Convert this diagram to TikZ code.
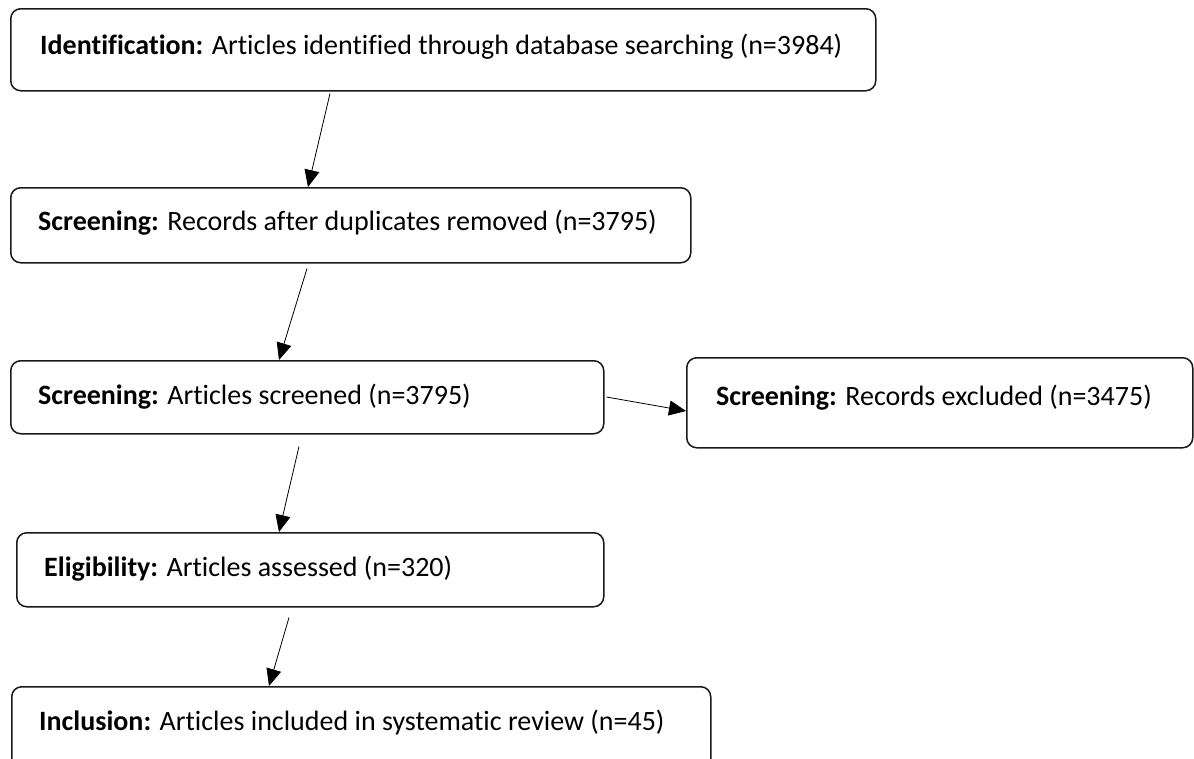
\documentclass[tikz,border=0pt]{standalone}
\usepackage{fontspec}
\setmainfont[Ligatures=NoCommon]{Carlito}
\usetikzlibrary{arrows.meta,calc}
\begin{document}
\begin{tikzpicture}[x=1pt,y=-1pt,
  box/.style={draw=black!90, line width=1.5pt, rounded corners=10pt, anchor=north west, inner sep=0pt},
  lbl/.style={anchor=west, inner sep=0pt, font=\fontsize{28}{32}\selectfont},
  arr/.style={draw=black, line width=0.8pt, -{Triangle[length=17pt,width=15pt]}}]
\useasboundingbox (0,0) rectangle (1194,758);
\fill[white] (0,0) rectangle (1194,758);
% boxes
\node[box, minimum width=865pt, minimum height=82pt] (b1) at (10,8) {};
\node[box, minimum width=680pt, minimum height=75pt] (b2) at (10,187) {};
\node[box, minimum width=593pt, minimum height=73pt] (b3) at (10,360) {};
\node[box, minimum width=506pt, minimum height=90pt] (b4) at (686,357) {};
\node[box, minimum width=587pt, minimum height=74pt] (b5) at (16,532) {};
\node[box, minimum width=699pt, minimum height=84pt] (b6) at (11,686) {};
% labels
\node[lbl] (t1) at ($(b1.west)+(30,-3)$) {\textbf{Identification:} Articles identified through database searching (n=3984)};
\node[lbl] (t2) at ($(b2.west)+(28,-3)$) {\textbf{Screening:} Records after duplicates removed (n=3795)};
\node[lbl] (t3) at ($(b3.west)+(28,-1)$) {\textbf{Screening:} Articles screened (n=3795)};
\node[lbl] (t4) at ($(b4.west)+(30,-5)$) {\textbf{Screening:} Records excluded (n=3475)};
\node[lbl] (t5) at ($(b5.west)+(28,-1)$) {\textbf{Eligibility:} Articles assessed (n=320)};
\node[lbl] (t6) at ($(b6.west)+(28,-6)$) {\textbf{Inclusion:} Articles included in systematic review (n=45)};
% arrows
\draw[arr] ($(b1.south west)+(320,2)$) -- ($(b2.north west)+(298,0)$);
\draw[arr] ($(b2.south west)+(297,5)$) -- ($(b3.north west)+(269,0)$);
\draw[arr] ($(b3.north east)+(2,37)$) -- ($(b4.north west)+(0,54)$);
\draw[arr] ($(b3.south west)+(289,12)$) -- ($(b5.north west)+(263,0)$);
\draw[arr] ($(b5.south west)+(273,10)$) -- ($(b6.north west)+(258,0)$);
\end{tikzpicture}
\end{document}
